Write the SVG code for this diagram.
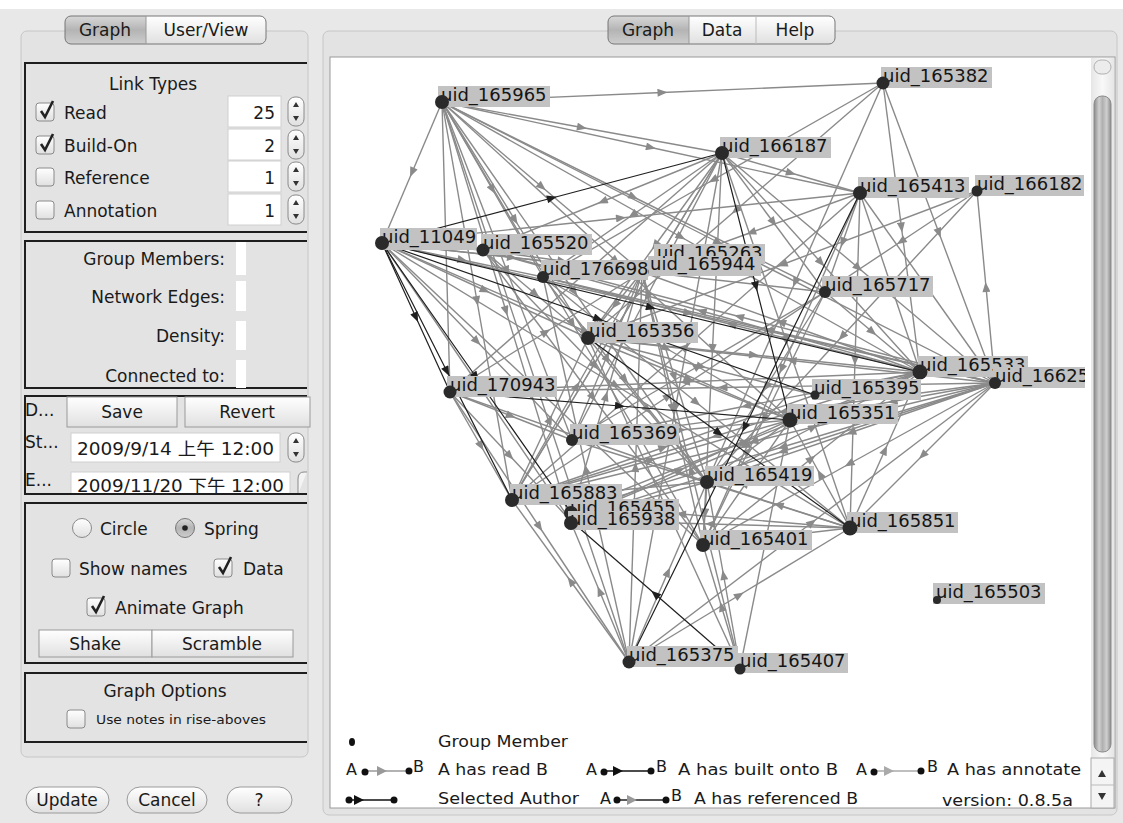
<svg xmlns="http://www.w3.org/2000/svg" xmlns:xlink="http://www.w3.org/1999/xlink" width="1123" height="823" viewBox="0 0 1123 823">
<style>
.t{font-family:"DejaVu Sans","Noto Sans CJK TC",sans-serif;font-size:17px;fill:#1a1a1a}
.s{font-size:13px}
.lg{font-family:"DejaVu Sans",sans-serif;font-size:16px;fill:#1a1a1a}
.nl{font-family:"DejaVu Sans",sans-serif;font-size:18px;fill:#151515}
.nb{fill:#c2c2c2}
.nd{fill:#2a2a2a}
.box{fill:none;stroke:#1e1e1e;stroke-width:2}
.btn{fill:url(#btn);stroke:#9a9a9a;stroke-width:1}
.fld{fill:#fff;stroke:#d0d0d0;stroke-width:1}
.e{fill:none;stroke:#8a8a8a;stroke-width:1.4;marker-mid:url(#ag)}
.k{fill:none;stroke:#1f1f1f;stroke-width:1.2;marker-mid:url(#ak)}
</style>
<defs>
<linearGradient id="btn" x1="0" y1="0" x2="0" y2="1"><stop offset="0" stop-color="#ffffff"/><stop offset="1" stop-color="#e0e0e0"/></linearGradient>
<linearGradient id="sel" x1="0" y1="0" x2="0" y2="1"><stop offset="0" stop-color="#d8d8d8"/><stop offset="0.5" stop-color="#b4b4b4"/><stop offset="1" stop-color="#cdcdcd"/></linearGradient>
<linearGradient id="trk" x1="0" y1="0" x2="1" y2="0"><stop offset="0" stop-color="#e6e6e6"/><stop offset="0.5" stop-color="#f8f8f8"/><stop offset="1" stop-color="#e6e6e6"/></linearGradient>
<linearGradient id="thb" x1="0" y1="0" x2="1" y2="0"><stop offset="0" stop-color="#8a8a8a"/><stop offset="0.3" stop-color="#d0d0d0"/><stop offset="0.5" stop-color="#b0b0b0"/><stop offset="0.75" stop-color="#cfcfcf"/><stop offset="1" stop-color="#8a8a8a"/></linearGradient>
<marker id="ag" viewBox="0 0 10 8" refX="5" refY="4" markerWidth="11" markerHeight="8" markerUnits="userSpaceOnUse" orient="auto"><path d="M0,0 L10,4 L0,8 z" fill="#8a8a8a"/></marker>
<marker id="ak" viewBox="0 0 10 8" refX="5" refY="4" markerWidth="11" markerHeight="8" markerUnits="userSpaceOnUse" orient="auto"><path d="M0,0 L10,4 L0,8 z" fill="#1f1f1f"/></marker>
<g id="spin"><rect x="0" y="0" width="16" height="29" rx="7" fill="url(#btn)" stroke="#8a8a8a"/><path d="M5,10 L8,5 L11,10 z M5,19 L8,24 L11,19 z" fill="#333"/></g>
<rect id="cb" width="18" height="18" rx="3" fill="url(#btn)" stroke="#8a8a8a"/>
<path id="ck" d="M4,8 L8,14 L16,-2" fill="none" stroke="#222" stroke-width="2.6"/>
<clipPath id="cv"><rect x="331" y="58" width="754" height="749"/></clipPath>
</defs>

<rect width="1123" height="823" fill="#e8e8e8"/>
<rect width="1123" height="9" fill="#ffffff"/>

<!-- LEFT PANEL -->
<g id="left-panel">
<rect x="21" y="31" width="287" height="726" rx="6" fill="#e3e3e3" stroke="#c6c6c6"/>
<g id="left-tabs">
<rect x="65" y="16" width="201" height="28" rx="6" fill="url(#btn)"/>
<path d="M71,16 H146 V44 H71 Q65,44 65,38 V22 Q65,16 71,16 Z" fill="url(#sel)"/>
<rect x="65" y="16" width="201" height="28" rx="6" fill="none" stroke="#777"/>
<line x1="146" y1="16" x2="146" y2="44" stroke="#999"/>
<text class="t" x="105" y="36" text-anchor="middle">Graph</text>
<text class="t" x="206" y="36" text-anchor="middle">User/View</text>
</g>

<g id="link-types">
<path class="box" d="M307,63 H25 V232 H307"/>
<text class="t" x="153" y="90" text-anchor="middle">Link Types</text>
<use href="#cb" x="36" y="103"/><use href="#ck" x="37" y="103"/>
<use href="#cb" x="36" y="136"/><use href="#ck" x="37" y="136"/>
<use href="#cb" x="36" y="168"/>
<use href="#cb" x="36" y="201"/>
<text class="t" x="64" y="119">Read</text>
<text class="t" x="64" y="152">Build-On</text>
<text class="t" x="64" y="184">Reference</text>
<text class="t" x="64" y="217">Annotation</text>
<rect class="fld" x="228" y="96" width="53" height="31"/>
<rect class="fld" x="228" y="129" width="53" height="31"/>
<rect class="fld" x="228" y="161" width="53" height="31"/>
<rect class="fld" x="228" y="194" width="53" height="31"/>
<text class="t" x="275" y="119" text-anchor="end">25</text>
<text class="t" x="275" y="152" text-anchor="end">2</text>
<text class="t" x="275" y="184" text-anchor="end">1</text>
<text class="t" x="275" y="217" text-anchor="end">1</text>
<use href="#spin" x="288" y="97"/>
<use href="#spin" x="288" y="130"/>
<use href="#spin" x="288" y="162"/>
<use href="#spin" x="288" y="195"/>
</g>

<g id="stats">
<path class="box" d="M307,241 H25 V388 H307"/>
<text class="t" x="225" y="265" text-anchor="end">Group Members:</text>
<text class="t" x="225" y="303" text-anchor="end">Network Edges:</text>
<text class="t" x="225" y="342" text-anchor="end">Density:</text>
<text class="t" x="225" y="382" text-anchor="end">Connected to:</text>
<rect x="236" y="242" width="10" height="33" fill="#fff"/>
<rect x="236" y="281" width="10" height="30" fill="#fff"/>
<rect x="236" y="321" width="10" height="29" fill="#fff"/>
<rect x="236" y="360" width="10" height="28" fill="#fff"/>
</g>

<g id="dates">
<path class="box" d="M307,396 H25 V494 H307"/>
<text class="t" x="25" y="416">D...</text>
<rect class="btn" x="67" y="397" width="110" height="30"/>
<text class="t" x="122" y="418" text-anchor="middle">Save</text>
<rect class="btn" x="185" y="397" width="125" height="30"/>
<text class="t" x="247" y="418" text-anchor="middle">Revert</text>
<text class="t" x="25" y="448">St...</text>
<rect class="fld" x="71" y="433" width="209" height="29"/>
<text class="t" x="77" y="455" textLength="197" lengthAdjust="spacingAndGlyphs">2009/9/14 上午 12:00</text>
<use href="#spin" x="288" y="433"/>
<text class="t" x="25" y="486">E...</text>
<rect class="fld" x="71" y="472" width="219" height="22"/>
<text class="t" x="77" y="492" textLength="207" lengthAdjust="spacingAndGlyphs">2009/11/20 下午 12:00</text>
<path d="M307,472 H304 Q298,472 298,479 V494" fill="#f4f4f4" stroke="#8a8a8a"/>
<line x1="25" y1="494" x2="307" y2="494" stroke="#1e1e1e" stroke-width="2"/>
</g>

<g id="layout">
<path class="box" d="M307,503 H25 V663 H307"/>
<circle cx="82" cy="528" r="9.5" fill="url(#btn)" stroke="#8a8a8a"/>
<text class="t" x="100" y="535">Circle</text>
<circle cx="185" cy="528" r="9.5" fill="url(#sel)" stroke="#777"/>
<circle cx="185" cy="528" r="2.8" fill="#222"/>
<text class="t" x="204" y="535">Spring</text>
<use href="#cb" x="52" y="559"/>
<text class="t" x="79" y="575">Show names</text>
<use href="#cb" x="214" y="559"/><use href="#ck" x="215" y="559"/>
<text class="t" x="243" y="575">Data</text>
<use href="#cb" x="87" y="598"/><use href="#ck" x="88" y="598"/>
<text class="t" x="115" y="614">Animate Graph</text>
<rect class="btn" x="39" y="630" width="113" height="27"/>
<rect class="btn" x="152" y="630" width="141" height="27"/>
<text class="t" x="95" y="650" text-anchor="middle">Shake</text>
<text class="t" x="222" y="650" text-anchor="middle">Scramble</text>
</g>

<g id="graph-options">
<path class="box" d="M307,673 H25 V742 H307"/>
<text class="t" x="165" y="697" text-anchor="middle">Graph Options</text>
<use href="#cb" x="67" y="710"/>
<text class="t s" x="96" y="724" textLength="170" lengthAdjust="spacingAndGlyphs">Use notes in rise-aboves</text>
</g>

<g id="bottom-buttons">
<rect class="btn" x="26" y="787" width="83" height="26" rx="13" stroke="#777"/>
<text class="t" x="67" y="806" text-anchor="middle">Update</text>
<rect class="btn" x="127" y="787" width="80" height="26" rx="13" stroke="#777"/>
<text class="t" x="167" y="806" text-anchor="middle">Cancel</text>
<rect class="btn" x="227" y="787" width="65" height="26" rx="13" stroke="#777"/>
<text class="t" x="259" y="806" text-anchor="middle">?</text>
</g>
</g>

<!-- RIGHT PANEL -->
<g id="right-panel">
<rect x="323" y="31" width="794" height="784" rx="6" fill="#e3e3e3" stroke="#c6c6c6"/>
<rect x="330" y="57" width="785" height="751" fill="#ffffff" stroke="#9a9a9a"/>
<g id="right-tabs">
<rect x="608" y="16" width="227" height="28" rx="6" fill="url(#btn)"/>
<path d="M614,16 H689 V44 H614 Q608,44 608,38 V22 Q608,16 614,16 Z" fill="url(#sel)"/>
<rect x="608" y="16" width="227" height="28" rx="6" fill="none" stroke="#777"/>
<line x1="689" y1="16" x2="689" y2="44" stroke="#999"/>
<line x1="756" y1="16" x2="756" y2="44" stroke="#bbb"/>
<text class="t" x="648" y="36" text-anchor="middle">Graph</text>
<text class="t" x="722" y="36" text-anchor="middle">Data</text>
<text class="t" x="795" y="36" text-anchor="middle">Help</text>
</g>
<g id="scrollbar">
<rect x="1091" y="58" width="23" height="750" fill="url(#trk)"/>
<rect x="1094" y="60" width="17" height="14" rx="7" fill="#ececec" stroke="#b0b0b0"/>
<rect x="1094" y="96" width="17" height="656" rx="8" fill="url(#thb)" stroke="#8c8c8c"/>
<rect x="1091" y="758" width="23" height="50" fill="#f4f4f4" stroke="#aaa"/>
<line x1="1091" y1="785" x2="1114" y2="785" stroke="#bbb"/>
<path d="M1098,777 L1102,770 L1106,777 z M1098,793 L1102,800 L1106,793 z" fill="#333"/>
</g>
</g>

<!-- CONNECTORS -->
<g id="connectors" clip-path="url(#cv)">
<path class="e" d="M442,102 L662.5,92.5 L883,83"/>
<path class="e" d="M442,102 L582,127.5 L722,153"/>
<path class="e" d="M442,102 L651,147.5 L860,193"/>
<path class="e" d="M442,102 L681,237 L920,372"/>
<path class="e" d="M442,102 L718.5,242.5 L995,383"/>
<path class="e" d="M442,102 L412,172.5 L382,243"/>
<path class="e" d="M442,102 L446,247 L450,392"/>
<path class="e" d="M442,102 L477,301 L512,500"/>
<path class="e" d="M442,102 L506,311 L570,520"/>
<path class="e" d="M442,102 L507,271 L572,440"/>
<path class="e" d="M442,102 L515,220 L588,338"/>
<path class="e" d="M442,102 L492.5,189.5 L543,277"/>
<path class="e" d="M442,102 L616,261 L790,420"/>
<path class="e" d="M442,102 L572.5,323.5 L703,545"/>
<path class="e" d="M442,102 L574.5,292 L707,482"/>
<path class="e" d="M442,102 L535.5,382 L629,662"/>
<path class="e" d="M442,102 L542,187 L642,272"/>
<path class="e" d="M442,102 L633.5,197 L825,292"/>
<path class="e" d="M382,243 L432.5,246.5 L483,250"/>
<path class="e" d="M382,243 L462.5,260 L543,277"/>
<path class="e" d="M382,243 L512,257.5 L642,272"/>
<path class="e" d="M382,243 L688.5,313 L995,383"/>
<path class="e" d="M382,243 L586,331.5 L790,420"/>
<path class="e" d="M382,243 L485,290.5 L588,338"/>
<path class="e" d="M382,243 L477,341.5 L572,440"/>
<path class="e" d="M382,243 L476,381.5 L570,520"/>
<path class="e" d="M382,243 L542.5,394 L703,545"/>
<path class="e" d="M382,243 L616,385.5 L850,528"/>
<path class="e" d="M382,243 L621,218 L860,193"/>
<path class="e" d="M382,243 L603.5,267.5 L825,292"/>
<path class="e" d="M722,153 L791,173 L860,193"/>
<path class="e" d="M722,153 L821,262.5 L920,372"/>
<path class="e" d="M722,153 L858.5,268 L995,383"/>
<path class="e" d="M722,153 L632.5,215 L543,277"/>
<path class="e" d="M722,153 L655,245.5 L588,338"/>
<path class="e" d="M722,153 L586,272.5 L450,392"/>
<path class="e" d="M722,153 L617,326.5 L512,500"/>
<path class="e" d="M722,153 L647,296.5 L572,440"/>
<path class="e" d="M722,153 L675.5,407.5 L629,662"/>
<path class="e" d="M722,153 L712.5,349 L703,545"/>
<path class="e" d="M722,153 L773.5,222.5 L825,292"/>
<path class="e" d="M722,153 L786,340.5 L850,528"/>
<path class="e" d="M722,153 L602.5,201.5 L483,250"/>
<path class="e" d="M883,83 L713,180 L543,277"/>
<path class="e" d="M883,83 L735.5,210.5 L588,338"/>
<path class="e" d="M883,83 L901.5,227.5 L920,372"/>
<path class="e" d="M883,83 L795,282.5 L707,482"/>
<path class="e" d="M883,83 L939,233 L995,383"/>
<path class="e" d="M860,193 L890,282.5 L920,372"/>
<path class="e" d="M860,193 L751,232.5 L642,272"/>
<path class="e" d="M860,193 L781.5,369 L703,545"/>
<path class="e" d="M860,193 L842.5,242.5 L825,292"/>
<path class="e" d="M860,193 L855,360.5 L850,528"/>
<path class="e" d="M860,193 L927.5,288 L995,383"/>
<path class="e" d="M995,383 L986,287 L977,191"/>
<path class="e" d="M977,191 L782.5,264.5 L588,338"/>
<path class="e" d="M977,191 L842,336.5 L707,482"/>
<path class="e" d="M977,191 L901,241.5 L825,292"/>
<path class="e" d="M920,372 L701.5,311 L483,250"/>
<path class="e" d="M920,372 L731.5,324.5 L543,277"/>
<path class="e" d="M920,372 L781,322 L642,272"/>
<path class="e" d="M920,372 L685,382 L450,392"/>
<path class="e" d="M920,372 L716,436 L512,500"/>
<path class="e" d="M920,372 L745,446 L570,520"/>
<path class="e" d="M920,372 L746,406 L572,440"/>
<path class="e" d="M995,383 L791.5,360.5 L588,338"/>
<path class="e" d="M995,383 L892.5,401.5 L790,420"/>
<path class="e" d="M995,383 L851,432.5 L707,482"/>
<path class="e" d="M995,383 L753.5,441.5 L512,500"/>
<path class="e" d="M995,383 L782.5,451.5 L570,520"/>
<path class="e" d="M995,383 L849,464 L703,545"/>
<path class="e" d="M995,383 L922.5,455.5 L850,528"/>
<path class="e" d="M995,383 L722.5,387.5 L450,392"/>
<path class="e" d="M995,383 L783.5,411.5 L572,440"/>
<path class="e" d="M995,383 L782.5,447 L570,511"/>
<path class="e" d="M995,383 L739,316.5 L483,250"/>
<path class="e" d="M995,383 L769,330 L543,277"/>
<path class="e" d="M850,528 L820,474 L790,420"/>
<path class="e" d="M850,528 L778.5,505 L707,482"/>
<path class="e" d="M850,528 L776.5,536.5 L703,545"/>
<path class="e" d="M850,528 L681,514 L512,500"/>
<path class="e" d="M850,528 L710,524 L570,520"/>
<path class="e" d="M850,528 L885,450 L920,372"/>
<path class="e" d="M850,528 L711,484 L572,440"/>
<path class="e" d="M629,662 L570.5,581 L512,500"/>
<path class="e" d="M629,662 L599.5,591 L570,520"/>
<path class="e" d="M629,662 L668,572 L707,482"/>
<path class="e" d="M629,662 L635.5,467 L642,272"/>
<path class="e" d="M629,662 L586,469.5 L543,277"/>
<path class="e" d="M629,662 L739.5,595 L850,528"/>
<path class="e" d="M629,662 L812,522.5 L995,383"/>
<path class="e" d="M740,668 L721.5,606.5 L703,545"/>
<path class="e" d="M740,668 L723.5,575 L707,482"/>
<path class="e" d="M740,668 L765,544 L790,420"/>
<path class="e" d="M740,668 L664,503 L588,338"/>
<path class="e" d="M740,668 L691,470 L642,272"/>
<path class="e" d="M450,392 L481,446 L512,500"/>
<path class="e" d="M450,392 L510,456 L570,520"/>
<path class="e" d="M450,392 L539.5,527 L629,662"/>
<path class="e" d="M450,392 L511,416 L572,440"/>
<path class="e" d="M450,392 L546,332 L642,272"/>
<path class="e" d="M450,392 L578.5,437 L707,482"/>
<path class="e" d="M512,500 L577,386 L642,272"/>
<path class="e" d="M512,500 L550,419 L588,338"/>
<path class="e" d="M512,500 L651,460 L790,420"/>
<path class="e" d="M512,500 L609.5,491 L707,482"/>
<path class="e" d="M512,500 L668.5,396 L825,292"/>
<path class="e" d="M512,500 L663.5,447.5 L815,395"/>
<path class="e" d="M512,500 L617,326.5 L722,153"/>
<path class="e" d="M512,500 L686,346.5 L860,193"/>
<path class="e" d="M570,520 L680,470 L790,420"/>
<path class="e" d="M570,520 L606,396 L642,272"/>
<path class="e" d="M570,520 L638.5,501 L707,482"/>
<path class="e" d="M570,511 L745,441.5 L920,372"/>
<path class="e" d="M572,440 L607,356 L642,272"/>
<path class="e" d="M572,440 L681,430 L790,420"/>
<path class="e" d="M572,440 L698.5,366 L825,292"/>
<path class="e" d="M588,338 L689,379 L790,420"/>
<path class="e" d="M588,338 L647.5,410 L707,482"/>
<path class="e" d="M588,338 L701.5,366.5 L815,395"/>
<path class="e" d="M588,338 L754,355 L920,372"/>
<path class="e" d="M483,250 L535.5,294 L588,338"/>
<path class="e" d="M483,250 L595,366 L707,482"/>
<path class="e" d="M483,250 L593,397.5 L703,545"/>
<path class="e" d="M483,250 L562.5,261 L642,272"/>
<path class="e" d="M543,277 L625,379.5 L707,482"/>
<path class="e" d="M543,277 L666.5,348.5 L790,420"/>
<path class="e" d="M543,277 L696.5,402.5 L850,528"/>
<path class="e" d="M642,272 L674.5,377 L707,482"/>
<path class="e" d="M642,272 L672.5,408.5 L703,545"/>
<path class="e" d="M642,272 L615,305 L588,338"/>
<path class="e" d="M707,482 L748.5,451 L790,420"/>
<path class="e" d="M707,482 L705,513.5 L703,545"/>
<path class="e" d="M707,482 L813.5,427 L920,372"/>
<path class="e" d="M703,545 L746.5,482.5 L790,420"/>
<path class="e" d="M703,545 L811.5,458.5 L920,372"/>
<path class="e" d="M815,395 L867.5,383.5 L920,372"/>
<path class="e" d="M825,292 L872.5,332 L920,372"/>
<path class="e" d="M825,292 L766,387 L707,482"/>
<path class="e" d="M825,292 L764,418.5 L703,545"/>
<path class="k" d="M382,243 L552,198 L722,153"/>
<path class="k" d="M382,243 L651,307.5 L920,372"/>
<path class="k" d="M382,243 L416,317.5 L450,392"/>
<path class="k" d="M382,243 L447,371.5 L512,500"/>
<path class="k" d="M382,243 L476,377 L570,511"/>
<path class="k" d="M382,243 L598.5,319 L815,395"/>
<path class="k" d="M722,153 L756,286.5 L790,420"/>
<path class="k" d="M740,668 L655,594 L570,520"/>
<path class="k" d="M450,392 L620,406 L790,420"/>
<path class="k" d="M588,338 L719,433 L850,528"/>
<path class="k" d="M860,193 L744.5,427.5 L629,662"/>
</g>

<!-- NODES -->
<g id="nodes" clip-path="url(#cv)">
<g id="node-165965"><rect class="nb" x="438" y="86" width="112" height="21"/><text class="nl" x="441" y="101">uid_165965</text><circle class="nd" cx="442" cy="102" r="7"/></g>
<g id="node-165382"><rect class="nb" x="881" y="67" width="111" height="21"/><text class="nl" x="883" y="82">uid_165382</text><circle class="nd" cx="883" cy="83" r="6.5"/></g>
<g id="node-166187"><rect class="nb" x="720" y="137" width="111" height="21"/><text class="nl" x="722" y="152">uid_166187</text><circle class="nd" cx="722" cy="153" r="7"/></g>
<g id="node-165413"><rect class="nb" x="858" y="177" width="111" height="21"/><text class="nl" x="860" y="192">uid_165413</text><circle class="nd" cx="860" cy="193" r="7"/></g>
<g id="node-166182"><rect class="nb" x="975" y="175" width="109" height="21"/><text class="nl" x="977" y="190">uid_166182</text><circle class="nd" cx="977" cy="191" r="5.5"/></g>
<g id="node-11049"><rect class="nb" x="380" y="228" width="97" height="22"/><text class="nl" x="382" y="243">uid_11049</text><circle class="nd" cx="382" cy="243" r="7"/></g>
<g id="node-165520"><rect class="nb" x="481" y="234" width="111" height="21"/><text class="nl" x="483" y="249">uid_165520</text><circle class="nd" cx="483" cy="250" r="6.5"/></g>
<g id="node-165263"><rect class="nb" x="654" y="244" width="111" height="20"/><text class="nl" x="657" y="259">uid_165263</text></g>
<g id="node-165944"><rect class="nb" x="648" y="256" width="113" height="20"/><text class="nl" x="650" y="270">uid_165944</text><circle class="nd" cx="642" cy="272" r="6.5"/></g>
<g id="node-176698"><rect class="nb" x="541" y="260" width="107" height="20"/><text class="nl" x="543" y="275">uid_176698</text><circle class="nd" cx="543" cy="277" r="6"/></g>
<g id="node-165717"><rect class="nb" x="822" y="276" width="111" height="21"/><text class="nl" x="825" y="291">uid_165717</text><circle class="nd" cx="825" cy="292" r="6"/></g>
<g id="node-165356"><rect class="nb" x="587" y="322" width="111" height="21"/><text class="nl" x="589" y="337">uid_165356</text><circle class="nd" cx="588" cy="338" r="7"/></g>
<g id="node-165533"><rect class="nb" x="918" y="356" width="110" height="21"/><text class="nl" x="920" y="371">uid_165533</text><circle class="nd" cx="920" cy="372" r="7.5"/></g>
<g id="node-16625"><rect class="nb" x="993" y="367" width="95" height="21"/><text class="nl" x="995" y="382">uid_16625</text><circle class="nd" cx="995" cy="383" r="6"/></g>
<g id="node-170943"><rect class="nb" x="447" y="376" width="110" height="21"/><text class="nl" x="450" y="391">uid_170943</text><circle class="nd" cx="450" cy="392" r="6.5"/></g>
<g id="node-165395"><rect class="nb" x="812" y="379" width="109" height="21"/><text class="nl" x="814" y="394">uid_165395</text><circle class="nd" cx="815" cy="395" r="4.5"/></g>
<g id="node-165351"><rect class="nb" x="787" y="404" width="111" height="20"/><text class="nl" x="790" y="419">uid_165351</text><circle class="nd" cx="790" cy="420" r="7.5"/></g>
<g id="node-165369"><rect class="nb" x="570" y="424" width="109" height="21"/><text class="nl" x="572" y="439">uid_165369</text><circle class="nd" cx="572" cy="440" r="6"/></g>
<g id="node-165419"><rect class="nb" x="705" y="466" width="109" height="20"/><text class="nl" x="707" y="481">uid_165419</text><circle class="nd" cx="707" cy="482" r="7"/></g>
<g id="node-165883"><rect class="nb" x="510" y="484" width="112" height="21"/><text class="nl" x="512" y="499">uid_165883</text><circle class="nd" cx="512" cy="500" r="7"/></g>
<g id="node-165455"><rect class="nb" x="568" y="499" width="111" height="18"/><text class="nl" x="570" y="514">uid_165455</text><circle class="nd" cx="571" cy="513" r="7"/></g>
<g id="node-165938"><rect class="nb" x="568" y="511" width="111" height="19"/><text class="nl" x="570" y="525">uid_165938</text><circle class="nd" cx="571" cy="523" r="7"/></g>
<g id="node-165851"><rect class="nb" x="847" y="512" width="111" height="21"/><text class="nl" x="850" y="527">uid_165851</text><circle class="nd" cx="850" cy="528" r="7.5"/></g>
<g id="node-165401"><rect class="nb" x="700" y="530" width="112" height="20"/><text class="nl" x="703" y="545">uid_165401</text><circle class="nd" cx="703" cy="545" r="7"/></g>
<g id="node-165503"><rect class="nb" x="933" y="583" width="112" height="21"/><text class="nl" x="936" y="598">uid_165503</text><circle class="nd" cx="937" cy="600" r="4"/></g>
<g id="node-165375"><rect class="nb" x="627" y="646" width="111" height="21"/><text class="nl" x="629" y="661">uid_165375</text><circle class="nd" cx="629" cy="662" r="6.5"/></g>
<g id="node-165407"><rect class="nb" x="738" y="653" width="110" height="20"/><text class="nl" x="740" y="667">uid_165407</text><circle class="nd" cx="740" cy="669" r="5.5"/></g>
</g>

<!-- LEGEND -->
<g id="legend" clip-path="url(#cv)">
<ellipse cx="352" cy="742" rx="3" ry="4" fill="#111"/>
<text class="lg" x="438" y="747" textLength="130" lengthAdjust="spacingAndGlyphs">Group Member</text>
<text class="lg" x="346" y="775">A</text>
<line x1="364" y1="771" x2="409" y2="771" stroke="#999" stroke-width="1.5"/>
<path d="M377,766 L387,771 L377,776 z" fill="#999"/>
<circle cx="365" cy="772" r="3.5" fill="#111"/><circle cx="409" cy="771" r="3.5" fill="#111"/>
<text class="lg" x="413" y="772">B</text>
<text class="lg" x="438" y="775" textLength="110" lengthAdjust="spacingAndGlyphs">A has read B</text>
<text class="lg" x="586" y="775">A</text>
<line x1="604" y1="771" x2="651" y2="771" stroke="#111" stroke-width="1.5"/>
<path d="M613,766 L623,771 L613,776 z" fill="#111"/>
<circle cx="604" cy="772" r="3.5" fill="#111"/><circle cx="651" cy="771" r="3.5" fill="#111"/>
<text class="lg" x="656" y="772">B</text>
<text class="lg" x="678" y="775" textLength="160" lengthAdjust="spacingAndGlyphs">A has built onto B</text>
<text class="lg" x="856" y="775">A</text>
<line x1="874" y1="771" x2="921" y2="771" stroke="#aaa" stroke-width="1.5"/>
<path d="M884,766 L894,771 L884,776 z" fill="#aaa"/>
<circle cx="874" cy="772" r="3.5" fill="#111"/><circle cx="921" cy="771" r="3.5" fill="#111"/>
<text class="lg" x="927" y="772">B</text>
<text class="lg" x="947" y="775" textLength="134" lengthAdjust="spacingAndGlyphs">A has annotate</text>
<line x1="349" y1="800" x2="394" y2="800" stroke="#111" stroke-width="1.5"/>
<path d="M354,795 L364,800 L354,805 z" fill="#111"/>
<circle cx="349" cy="800" r="3.5" fill="#111"/><circle cx="394" cy="800" r="3.5" fill="#111"/>
<text class="lg" x="438" y="804" textLength="141" lengthAdjust="spacingAndGlyphs">Selected Author</text>
<text class="lg" x="600" y="804">A</text>
<line x1="617" y1="800" x2="666" y2="800" stroke="#222" stroke-width="1.5"/>
<path d="M627,795 L637,800 L627,805 z" fill="#999"/>
<circle cx="617" cy="800" r="3.5" fill="#111"/><circle cx="666" cy="800" r="3.5" fill="#111"/>
<text class="lg" x="671" y="801">B</text>
<text class="lg" x="694" y="804" textLength="164" lengthAdjust="spacingAndGlyphs">A has referenced B</text>
<text class="lg" x="942" y="806" textLength="131" lengthAdjust="spacingAndGlyphs">version: 0.8.5a</text>
</g>
</svg>
